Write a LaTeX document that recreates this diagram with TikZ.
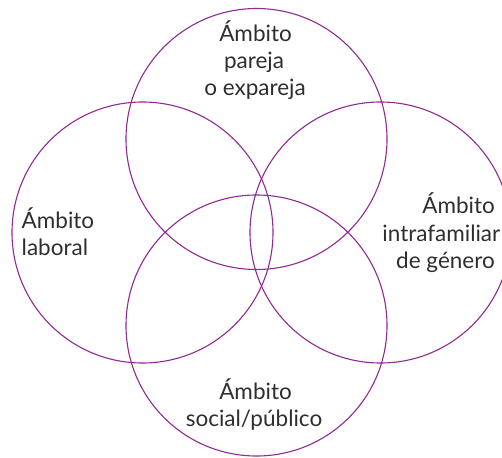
\documentclass[tikz,border=0pt]{standalone}
\usepackage{fontspec}
\setmainfont{Lato}
\definecolor{ring}{HTML}{8E2A90}
\definecolor{ink}{HTML}{2E2E2E}
\begin{document}
\begin{tikzpicture}[x=1pt,y=-1pt,
  ringnode/.style={circle,draw=ring,line width=1.1pt,minimum size=261pt,inner sep=0pt},
  lbl/.style={text=ink,font=\fontsize{22.5}{27}\selectfont,inner sep=0pt}]
\clip (0,0) rectangle (502,457);
\node[ringnode] (top) at (256.5,139) {};
\node[ringnode] (left) at (142.5,232.5) {};
\node[ringnode] (right) at (380.5,232.5) {};
\node[ringnode] (bottom) at (256.5,325.5) {};
% top label
\node[lbl,anchor=base] (t1) at (255.5,41.5) {Ámbito};
\node[lbl,anchor=base] (t2) at (254,68.5) {pareja};
\node[lbl,anchor=base] (t3) at (255,95.5) {o expareja};
% left label
\node[lbl,anchor=base west] (l1) at (21.5,228) {Ámbito};
\node[lbl,anchor=base west] (l2) at (21.5,255) {laboral};
% right label
\node[lbl,anchor=base east] (r1) at (495,213) {Ámbito};
\node[lbl,anchor=base east] (r2) at (500.5,241) {intrafamiliar};
\node[lbl,anchor=base east] (r3) at (495,268) {de género};
% bottom label
\node[lbl,anchor=base] (b1) at (255.5,399) {Ámbito};
\node[lbl,anchor=base] (b2) at (254,426.5) {social/público};
\end{tikzpicture}
\end{document}
